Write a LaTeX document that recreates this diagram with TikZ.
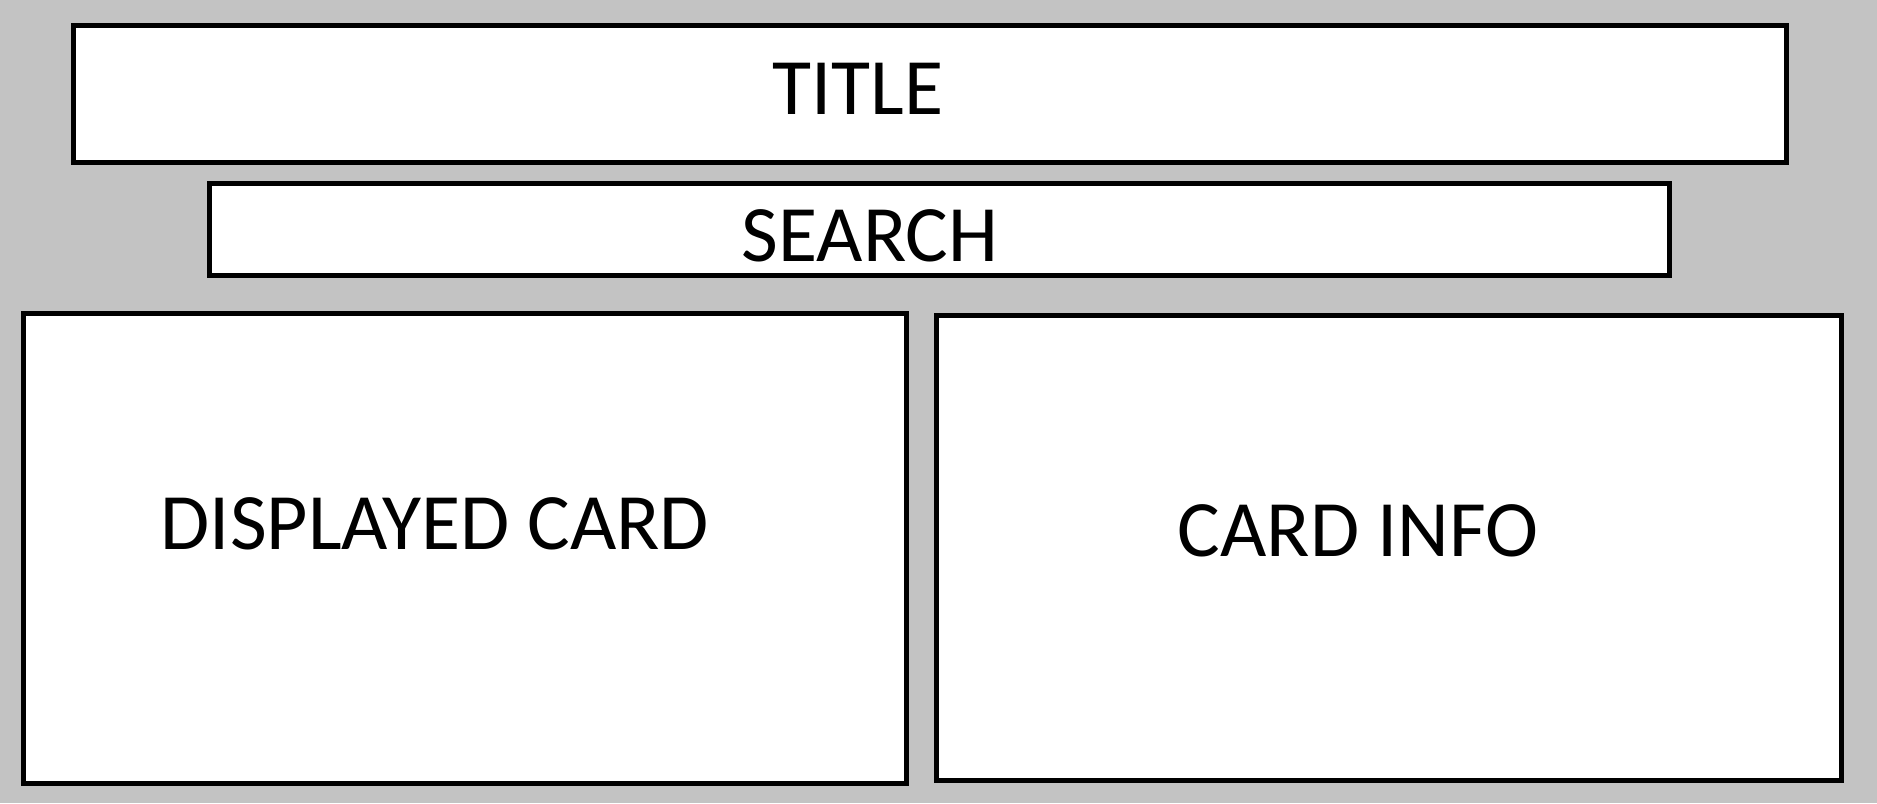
\documentclass[tikz,border=0pt]{standalone}
\usepackage{fontspec}
\setmainfont{Carlito}
\definecolor{wallgray}{RGB}{195,195,195}
\tikzset{
  panel/.style={draw, fill=white, line width=2.5pt},
  caption/.style={inner sep=0pt, font=\fontsize{40}{48}\selectfont}
}
\begin{document}
\begin{tikzpicture}[x=0.5pt, y=-0.5pt]
  \fill[wallgray] (0,0) rectangle (1877,803);
  \useasboundingbox (0,0) rectangle (1877,803);
  % header and search bar
  \draw[panel] (73.5,25.5) rectangle (1786.5,162.5);
  \draw[panel] (209.5,183.5) rectangle (1669.5,275);
  % card panels
  \draw[panel] (23.5,313.5) rectangle (906.5,783.5);
  \draw[panel] (936.5,315.5) rectangle (1841.5,780.5);
  \node[caption] (title) at (858,89) {TITLE};
  \node[caption] (search) at (870,236) {SEARCH};
  \node[caption] (shown) at (435,524) {DISPLAYED CARD};
  \node[caption] (info) at (1358,530.5) {CARD INFO};
\end{tikzpicture}
\end{document}
